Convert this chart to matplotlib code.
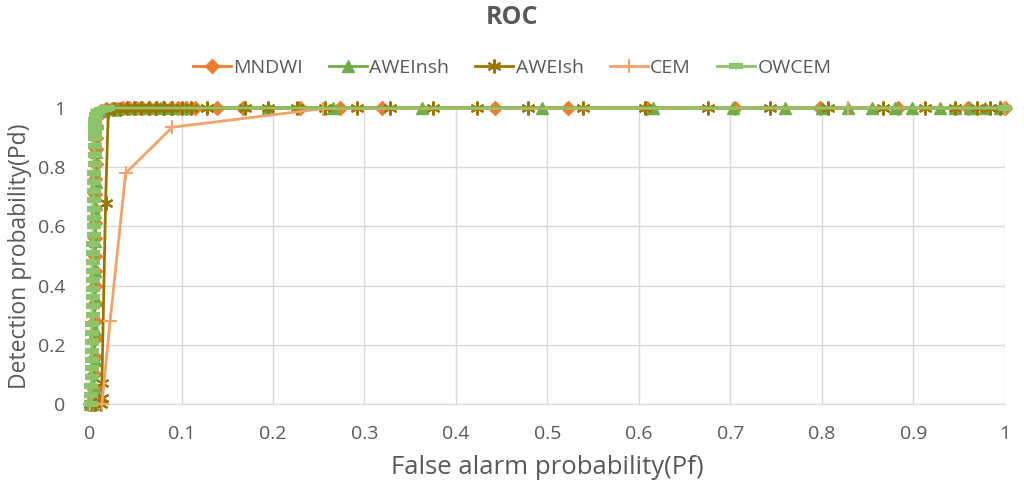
import matplotlib
matplotlib.use("Agg")
import matplotlib.pyplot as plt
from matplotlib.ticker import FixedLocator

plt.rcParams['font.family'] = ['Open Sans', 'DejaVu Sans']

# ---------------- data ----------------
mndwi_x = [0.000, 0.003, 0.004, 0.004, 0.004, 0.005, 0.005, 0.005, 0.005, 0.005,
           0.006, 0.006, 0.006, 0.006, 0.006, 0.006, 0.006, 0.007, 0.007, 0.007,
           0.007, 0.008, 0.012, 0.018, 0.024, 0.030, 0.036, 0.043, 0.050, 0.057,
           0.064, 0.072, 0.080, 0.088, 0.096, 0.105, 0.115, 0.139, 0.167, 0.230,
           0.273, 0.319, 0.443, 0.522, 0.609, 0.705, 0.798, 0.883, 0.960, 1.000]
mndwi_y = [0.000, 0.000, 0.020, 0.050, 0.100, 0.160, 0.220, 0.280, 0.340, 0.400,
           0.450, 0.500, 0.560, 0.610, 0.660, 0.710, 0.760, 0.810, 0.860, 0.900,
           0.940, 0.970, 0.990, 0.995, 0.997, 0.998, 0.999, 1.000, 1.000, 1.000,
           1.000, 1.000, 1.000, 1.000, 1.000, 1.000, 1.000, 1.000, 1.000, 1.000,
           1.000, 1.000, 1.000, 1.000, 1.000, 1.000, 1.000, 1.000, 1.000, 1.000]

aweinsh_x = [0.000, 0.003, 0.004, 0.005, 0.005, 0.005, 0.006, 0.006, 0.006, 0.007,
             0.007, 0.008, 0.012, 0.020, 0.030, 0.040, 0.052, 0.064, 0.076, 0.090,
             0.105, 0.195, 0.266, 0.363, 0.494, 0.615, 0.703, 0.760, 0.800, 0.828,
             0.855, 0.880, 0.898, 0.929, 0.945, 0.962, 0.978, 0.995]
aweinsh_y = [0.000, 0.000, 0.050, 0.150, 0.250, 0.350, 0.450, 0.550, 0.650, 0.750,
             0.850, 0.950, 0.990, 0.995, 0.998, 1.000, 1.000, 1.000, 1.000, 1.000,
             1.000, 1.000, 1.000, 1.000, 1.000, 1.000, 1.000, 1.000, 1.000, 1.000,
             1.000, 1.000, 1.000, 1.000, 1.000, 1.000, 1.000, 1.000]

aweish_x = [0.000, 0.006, 0.012, 0.013, 0.013, 0.017, 0.020, 0.026, 0.033, 0.040,
            0.048, 0.056, 0.064, 0.072, 0.081, 0.090, 0.100, 0.110, 0.128, 0.169,
            0.195, 0.226, 0.257, 0.292, 0.328, 0.375, 0.423, 0.479, 0.539, 0.607,
            0.675, 0.743, 0.807, 0.867, 0.913, 0.945, 0.969, 0.984, 0.995]
aweish_y = [0.000, 0.000, 0.000, 0.020, 0.070, 0.680, 0.990, 0.995, 0.998, 1.000,
            1.000, 1.000, 1.000, 1.000, 1.000, 1.000, 1.000, 1.000, 1.000, 1.000,
            1.000, 1.000, 1.000, 1.000, 1.000, 1.000, 1.000, 1.000, 1.000, 1.000,
            1.000, 1.000, 1.000, 1.000, 1.000, 1.000, 1.000, 1.000, 1.000]

cem_x = [0.000, 0.013, 0.022, 0.039, 0.090, 0.255, 0.828, 1.000]
cem_y = [0.000, 0.000, 0.280, 0.780, 0.935, 0.998, 1.000, 1.000]

owcem_x = [0.001, 0.001, 0.001, 0.002, 0.002, 0.002, 0.002, 0.002, 0.002, 0.002,
           0.003, 0.003, 0.003, 0.003, 0.003, 0.003, 0.003, 0.003, 0.003, 0.004,
           0.004, 0.004, 0.004, 0.004, 0.004, 0.004, 0.004, 0.005, 0.005, 0.005,
           0.005, 0.005, 0.006, 0.006, 0.007, 0.009, 0.012, 0.016, 0.020, 1.000]
owcem_y = [0.000, 0.030, 0.060, 0.090, 0.120, 0.150, 0.180, 0.210, 0.240, 0.270,
           0.300, 0.330, 0.360, 0.390, 0.420, 0.450, 0.480, 0.510, 0.540, 0.570,
           0.600, 0.630, 0.660, 0.690, 0.720, 0.750, 0.780, 0.810, 0.840, 0.870,
           0.900, 0.920, 0.940, 0.960, 0.975, 0.985, 0.993, 0.997, 1.000, 1.000]

x_ticks = [0, 0.1, 0.2, 0.3, 0.4, 0.5, 0.6, 0.7, 0.8, 0.9, 1]
x_tick_labels = ["0", "0.1", "0.2", "0.3", "0.4", "0.5", "0.6", "0.7", "0.8", "0.9", "1"]
y_ticks = [0, 0.2, 0.4, 0.6, 0.8, 1]
y_tick_labels = ["0", "0.2", "0.4", "0.6", "0.8", "1"]

# ---------------- figure ----------------
fig = plt.figure(figsize=(10.24, 4.92), dpi=100)
ax = fig.add_axes([0.0879, 0.1789, 0.8935, 0.6016])

TXT = "#595959"
c_mndwi = "#ED7D31"
c_aweinsh = "#70AD47"
c_aweish = "#9C7400"
c_cem = "#F4A26B"
c_owcem = "#8DC46A"

lw = 2.0
ax.plot(mndwi_x, mndwi_y, color=c_mndwi, lw=lw, marker='D', ms=7,
        mec=c_mndwi, mfc=c_mndwi, label="MNDWI", clip_on=False, zorder=3)
ax.plot(aweinsh_x, aweinsh_y, color=c_aweinsh, lw=lw, marker='^', ms=9,
        mec=c_aweinsh, mfc=c_aweinsh, label="AWEInsh", clip_on=False, zorder=4)
ax.plot(aweish_x, aweish_y, color=c_aweish, lw=lw, marker=(6, 2, 0), ms=10,
        mew=1.5, mec=c_aweish, label="AWEIsh", clip_on=False, zorder=5)
ax.plot(cem_x, cem_y, color=c_cem, lw=lw, marker='+', ms=10, mew=1.5,
        mec=c_cem, label="CEM", clip_on=False, zorder=6)
ax.plot(owcem_x, owcem_y, color=c_owcem, lw=lw, marker='_', ms=10, mew=4.5,
        mec=c_owcem, label="OWCEM", clip_on=False, zorder=7)

ax.set_xlim(0, 1)
ax.set_ylim(0, 1)
ax.xaxis.set_major_locator(FixedLocator(x_ticks))
ax.yaxis.set_major_locator(FixedLocator(y_ticks))
ax.set_xticklabels(x_tick_labels)
ax.set_yticklabels(y_tick_labels)
ax.tick_params(axis='both', length=0, labelsize=14, colors=TXT)
ax.tick_params(axis='x', pad=15)
ax.tick_params(axis='y', pad=18)
ax.grid(True, color="#D9D9D9", lw=1)
ax.set_axisbelow(True)
for s in ['top', 'right', 'left']:
    ax.spines[s].set_visible(False)
ax.spines['bottom'].set_color("#D9D9D9")

ax.set_xlabel("False alarm probability(Pf)", fontsize=18.5, color=TXT, labelpad=9)
ax.set_ylabel("Detection probability(Pd)", fontsize=16.5, color=TXT, labelpad=4)

fig.text(0.5, 0.965, "ROC", ha='center', va='center', fontsize=18,
         fontweight='bold', color=TXT)

leg = fig.legend(loc='center', bbox_to_anchor=(0.5, 0.862), ncol=5, frameon=False,
                 fontsize=14, handlelength=1.95, columnspacing=1.35, handletextpad=0.12)
for t in leg.get_texts():
    t.set_color(TXT)

fig.savefig("out.png", dpi=100, facecolor="white")
